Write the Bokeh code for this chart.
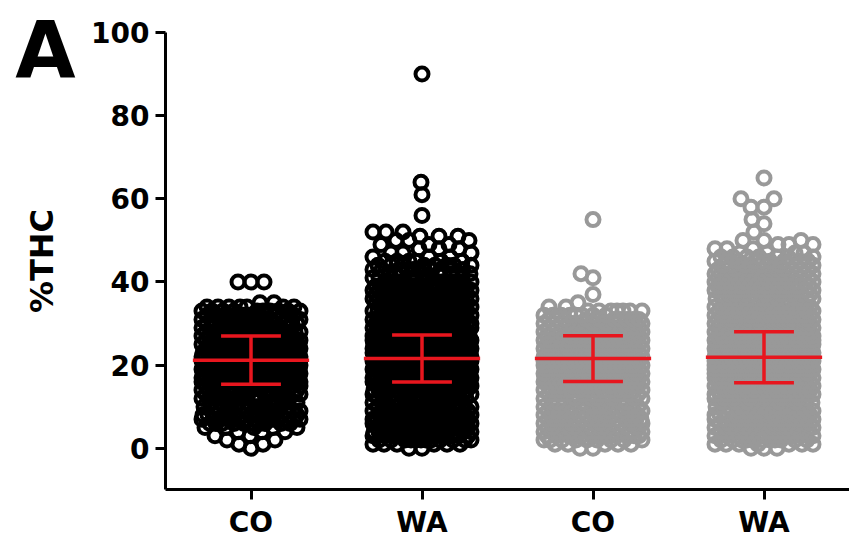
import numpy as np
from bokeh.plotting import figure
from bokeh.models import Range1d, FixedTicker, LinearAxis
from bokeh.embed import file_html
from bokeh.resources import INLINE

# ---------------- data ----------------
categories = ["CO", "WA", "CO", "WA"]
positions = [1, 2, 3, 4]
ring_colors = ["#000000", "#000000", "#999999", "#999999"]

# number of samples at %THC = 0, 1, 2, 3, ... (one entry per integer value)
co_black_counts = [1, 2, 2, 2, 3, 5, 10, 14, 15, 14, 10, 6, 8, 12, 15, 17, 19, 20, 21, 22,
                   23, 23, 23, 22, 21, 20, 19, 17, 16, 15, 14, 13, 12, 10, 7, 2]
co_black_high = [40, 40, 40]

wa_black_counts = [2, 6, 12, 16, 18, 19, 19, 19, 18, 16, 12, 7, 9, 14, 18, 20, 22, 23, 24, 25,
                   26, 26, 26, 25, 24, 23, 22, 21, 20, 19, 19, 18, 18, 18, 17, 17, 16, 16, 15, 14,
                   10, 6, 9, 9, 8, 6, 3, 3, 3, 3, 3, 3, 3]
wa_black_high = [56, 61, 64, 90]

co_gray_counts = [2, 5, 9, 12, 13, 13, 14, 15, 15, 13, 10, 6, 8, 12, 15, 17, 19, 20, 21, 22,
                  23, 23, 23, 22, 21, 20, 19, 17, 16, 14, 12, 10, 8, 7, 2]
co_gray_high = [35, 37, 41, 42, 55]

wa_gray_counts = [3, 7, 11, 14, 15, 14, 15, 16, 16, 14, 9, 10, 14, 17, 19, 21, 23, 24, 25, 26,
                  27, 27, 27, 26, 25, 24, 23, 22, 21, 20, 19, 19, 18, 16, 12, 8, 10, 14, 16, 16,
                  16, 15, 14, 13, 12, 10, 7, 4, 3, 3, 3]
wa_gray_high = [52, 54, 55, 58, 58, 60, 60, 65]

means = [21.2, 21.6, 21.6, 21.9]
sds = [5.8, 5.65, 5.5, 6.15]

y_ticks = [0, 20, 40, 60, 80, 100]
y_title = "%THC"
panel_letter = "A"

groups = [(co_black_counts, co_black_high), (wa_black_counts, wa_black_high),
          (co_gray_counts, co_gray_high), (wa_gray_counts, wa_gray_high)]

# ---------------- layout ----------------
FIG_W, FIG_H = 849, 546
BORDER_L, BORDER_R, BORDER_T, BORDER_B = 165, 0, 32, 57
FRAME_W = FIG_W - BORDER_L - BORDER_R
FRAME_H = FIG_H - BORDER_T - BORDER_B
X0, X1 = 0.5, 4.5
Y0, Y1 = -9.9, 100
PX = FRAME_W / (X1 - X0)
PY = FRAME_H / (Y1 - Y0)


def swarm(vals, half=49.0, dmin=12.5):
    """Beeswarm layout in screen pixels: nearest free slot to the centre,
    or the least crowded slot when the column is full."""
    vals = np.sort(np.asarray(vals, dtype=float))
    ys = vals * PY
    cand = np.arange(-half, half + 0.01, 1.0)
    cand = cand[np.argsort(np.abs(cand), kind="stable")]
    xs = np.zeros(len(vals))
    for i, y in enumerate(ys):
        lo = np.searchsorted(ys[:i], y - 3 * dmin)
        if lo >= i:
            xs[i] = 0.0
            continue
        nx = xs[lo:i]
        ny = ys[lo:i]
        d = np.sqrt((cand[:, None] - nx[None, :]) ** 2 + (y - ny[None, :]) ** 2).min(axis=1)
        ok = np.nonzero(d >= dmin)[0]
        if len(ok):
            xs[i] = cand[ok[0]]
        else:
            xs[i] = cand[int(np.argmax(d))]
    return xs / PX, vals


p = figure(width=FIG_W, height=FIG_H, output_backend="svg", toolbar_location=None,
           x_range=Range1d(X0, X1), y_range=Range1d(Y0, Y1),
           min_border_left=BORDER_L, min_border_right=BORDER_R,
           min_border_top=BORDER_T, min_border_bottom=BORDER_B)

for pos, color, (counts, high) in zip(positions, ring_colors, groups):
    values = np.concatenate([np.repeat(np.arange(len(counts)), counts), np.asarray(high, dtype=float)])
    dx, vy = swarm(values)
    p.scatter(x=pos + dx, y=vy, marker="circle", size=13, line_width=4,
              line_color=color, fill_color=None)

# mean +/- SD bars
pos_a = np.array(positions, dtype=float)
m = np.array(means)
s = np.array(sds)
red = "#e8161e"
p.segment(x0=pos_a - 0.34, y0=m, x1=pos_a + 0.34, y1=m, line_color=red, line_width=3.5)
p.segment(x0=pos_a - 0.175, y0=m + s, x1=pos_a + 0.175, y1=m + s, line_color=red, line_width=3.5)
p.segment(x0=pos_a - 0.175, y0=m - s, x1=pos_a + 0.175, y1=m - s, line_color=red, line_width=3.5)
p.segment(x0=pos_a, y0=m - s, x1=pos_a, y1=m + s, line_color=red, line_width=3.5)

# axes
FONT = "DejaVu Sans"
p.xgrid.grid_line_color = None
p.ygrid.grid_line_color = None
p.outline_line_color = None
p.background_fill_color = "white"
p.border_fill_color = "white"

p.xaxis.ticker = FixedTicker(ticks=positions)
p.xaxis.major_label_overrides = {pos: cat for pos, cat in zip(positions, categories)}
p.yaxis.ticker = FixedTicker(ticks=y_ticks)
for ax in (p.xaxis, p.yaxis):
    ax.axis_line_width = 3
    ax.axis_line_color = "black"
    ax.major_tick_line_width = 3
    ax.major_tick_line_color = "black"
    ax.major_tick_out = 10
    ax.major_tick_in = 0
    ax.minor_tick_line_color = None
    ax.major_label_text_font = FONT
    ax.major_label_text_font_style = "bold"
    ax.major_label_text_font_size = "28px"
    ax.major_label_text_color = "black"
p.xaxis.major_label_standoff = 6
p.yaxis.major_label_standoff = 6

# outer, line-less left axis: carries the panel letter (as its only tick label)
# and the y-axis title
letter_pos = 98
outer = LinearAxis(ticker=FixedTicker(ticks=[letter_pos]),
                   major_label_overrides={letter_pos: panel_letter},
                   axis_line_color=None, major_tick_line_color=None,
                   major_tick_out=0, major_tick_in=0, minor_tick_line_color=None,
                   major_label_standoff=13,
                   major_label_text_font=FONT, major_label_text_font_style="bold",
                   major_label_text_font_size="78px", major_label_text_color="black",
                   axis_label=y_title, axis_label_text_font=FONT,
                   axis_label_text_font_style="bold", axis_label_text_font_size="32px",
                   axis_label_text_color="black", axis_label_standoff=-49)
p.add_layout(outer, "left")

open("out.html", "w").write(file_html(p, INLINE))
